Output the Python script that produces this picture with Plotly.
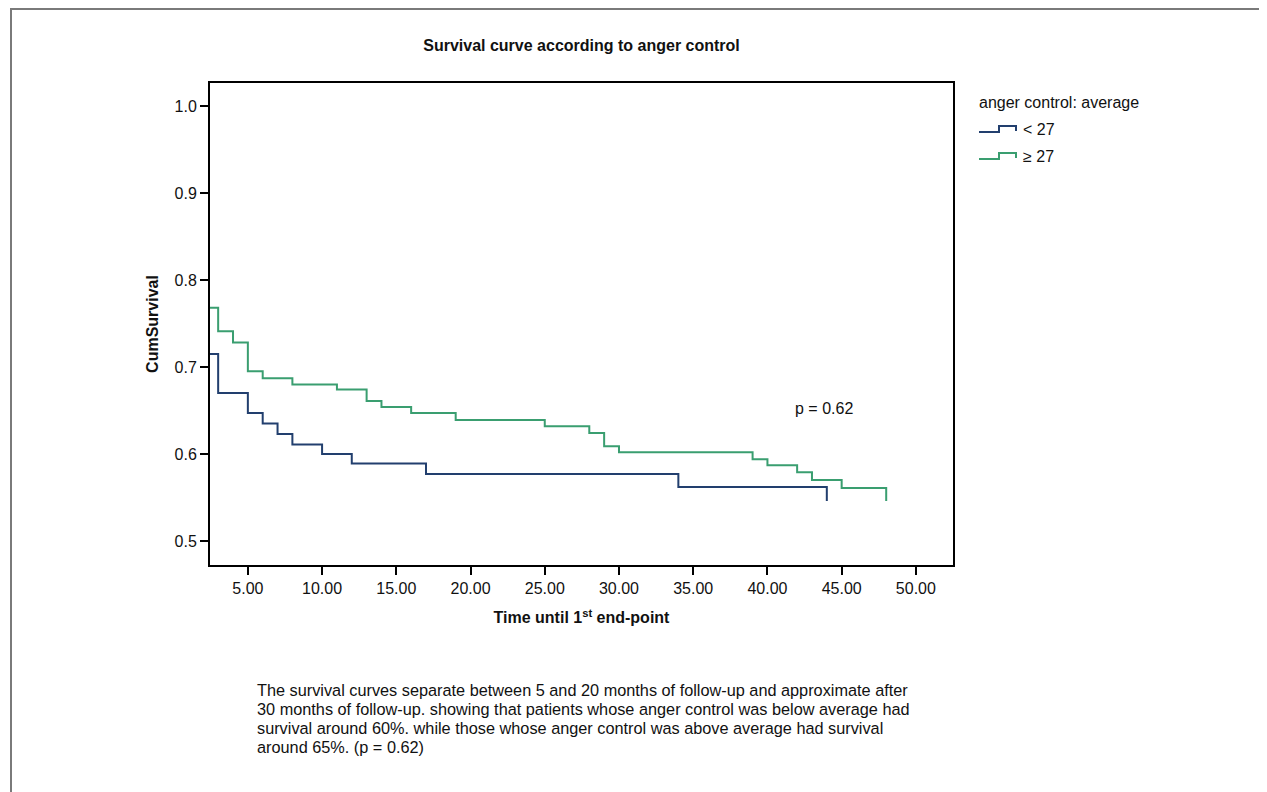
import plotly.graph_objects as go

# ---- data ----
below_time = [0, 3, 5, 6, 7, 8, 10, 12, 17, 34, 44]
below_surv = [0.715, 0.670, 0.647, 0.635, 0.623, 0.611, 0.600, 0.589, 0.577, 0.562, 0.546]

above_time = [0, 3, 4, 5, 6, 8, 11, 13, 14, 16, 19, 25, 28, 29, 30, 39, 40, 42, 43, 45, 48]
above_surv = [0.768, 0.741, 0.728, 0.695, 0.687, 0.680, 0.674, 0.661, 0.654, 0.647, 0.639,
              0.632, 0.624, 0.609, 0.602, 0.594, 0.587, 0.579, 0.570, 0.561, 0.546]

x_ticks = [5, 10, 15, 20, 25, 30, 35, 40, 45, 50]
x_tick_labels = ["5.00", "10.00", "15.00", "20.00", "25.00", "30.00", "35.00", "40.00", "45.00", "50.00"]
y_ticks = [0.5, 0.6, 0.7, 0.8, 0.9, 1.0]
y_tick_labels = ["0.5", "0.6", "0.7", "0.8", "0.9", "1.0"]

series_names = ["< 27", "≥ 27"]
colors = ["#223f6e", "#3a9e70"]

caption_lines = [
    "The survival curves separate between 5 and 20 months of follow-up and approximate after",
    "30 months of follow-up. showing that patients whose anger control was below average had",
    "survival around 60%. while those whose anger control was above average had survival",
    "around 65%. (p = 0.62)",
]

# ---- layout geometry (page pixel coords; page body has an 8px margin) ----
OFF = 8
W, H = 1267 - OFF, 792 - OFF
L, R, T, B = 210, 953, 83, 565
pw, ph = R - L, B - T


def px(x):
    return (x - L) / pw


def py(y):
    return (B - y) / ph


FONT = "Liberation Sans, Arial, sans-serif"
TXT = "#111111"

fig = go.Figure()
for t, s, c, n in [(below_time, below_surv, colors[0], series_names[0]),
                   (above_time, above_surv, colors[1], series_names[1])]:
    fig.add_trace(go.Scatter(x=t, y=s, mode="lines", line=dict(shape="hv", color=c, width=2),
                             name=n, showlegend=False, hoverinfo="x+y"))

shapes = []
# outer frame
shapes.append(dict(type="rect", xref="paper", yref="paper",
                   x0=px(11), x1=px(1265), y0=py(830), y1=py(9),
                   line=dict(color="#7a7a7a", width=2), layer="below"))
# custom step legend glyphs
for i, c in enumerate(colors):
    base = 132 + i * 27
    path = (f"M {px(979)},{py(base)} L {px(999)},{py(base)} L {px(999)},{py(base-6)} "
            f"L {px(1016)},{py(base-6)} L {px(1016)},{py(base-1)}")
    shapes.append(dict(type="path", xref="paper", yref="paper", path=path,
                       line=dict(color=c, width=2)))

annotations = []
annotations.append(dict(text="anger control: average", xref="paper", yref="paper",
                        x=px(977), y=py(103), xanchor="left", yanchor="middle",
                        showarrow=False, font=dict(family=FONT, size=16, color=TXT)))
for i, n in enumerate(series_names):
    annotations.append(dict(text=n, xref="paper", yref="paper",
                            x=px(1021), y=py(129 + i * 27), xanchor="left", yanchor="middle",
                            showarrow=False, font=dict(family=FONT, size=16, color=TXT)))
annotations.append(dict(text="p = 0.62", xref="x", yref="y", x=43.8, y=0.652,
                        xanchor="center", yanchor="middle", showarrow=False,
                        font=dict(family=FONT, size=16, color=TXT)))
for i, line in enumerate(caption_lines):
    annotations.append(dict(text=line, xref="paper", yref="paper", x=px(255), y=py(690 + 19 * i),
                            xanchor="left", yanchor="middle", align="left", showarrow=False,
                            font=dict(family=FONT, size=16.3, color=TXT)))

axis_common = dict(showgrid=False, zeroline=False, showline=True, linecolor="black", linewidth=2,
                   mirror=True, ticks="outside", ticklen=8, tickwidth=2, tickcolor="black",
                   tickfont=dict(family=FONT, size=16, color=TXT))

fig.update_layout(
    width=W, height=H,
    margin=dict(l=L - OFF, r=W - (R - OFF), t=T - OFF, b=H - (B - OFF)),
    paper_bgcolor="white", plot_bgcolor="white",
    title=dict(text="<b>Survival curve according to anger control</b>",
               x=((L + R) / 2 - OFF) / W, xanchor="center",
               y=1 - (45 - OFF) / H, yanchor="middle",
               font=dict(family=FONT, size=16, color=TXT)),
    xaxis=dict(range=[2.45, 52.5], tickvals=x_ticks, ticktext=x_tick_labels,
               title=dict(text="<b>Time until 1<sup>st</sup> end-point</b>", standoff=16,
                          font=dict(family=FONT, size=16, color=TXT)),
               **axis_common),
    yaxis=dict(range=[0.4724, 1.0264], tickvals=y_ticks, ticktext=y_tick_labels,
               title=dict(text="<b>CumSurvival</b>", standoff=12,
                          font=dict(family=FONT, size=16, color=TXT)),
               **axis_common),
    shapes=shapes, annotations=annotations,
    showlegend=False,
)

fig.write_html("out.html")
